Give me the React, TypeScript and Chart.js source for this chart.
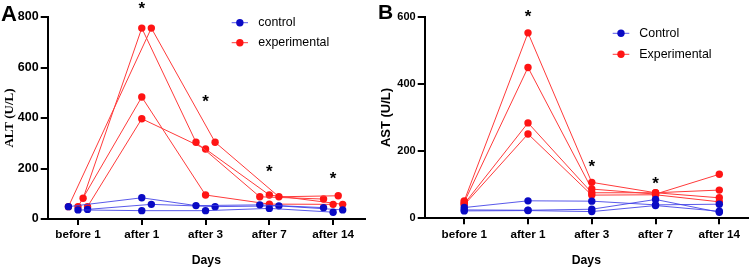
import React, { useEffect, useRef } from "react";
import { Chart, registerables } from "chart.js";

Chart.register(...registerables);

// ---------------- data ----------------
const categories = ["before 1", "after 1", "after 3", "after 7", "after 14"];

// Panel A – ALT (U/L)
const altGroups = ["control", "experimental"];
const altControl = [
  [49, 84, 53, 56, 45],
  [36, 33, 33, 42, 27],
  [38, 58, 49, 52, 36],
];
const altControlJitter = [
  [-0.15, 0, -0.15, -0.15, -0.15],
  [0, 0, 0, 0, 0],
  [0.15, 0.15, 0.15, 0.15, 0.15],
];
const altExperimental = [
  [49, 756, 304, 88, 92],
  [82, 756, 304, 88, 79],
  [49, 483, 95, 59, 58],
  [49, 397, 277, 95, 58],
];
const altExperimentalJitter = [
  [-0.15, 0.15, 0.15, 0.15, 0.08],
  [0.08, 0, -0.15, -0.15, -0.15],
  [0, 0, 0, 0, 0],
  [0.15, 0, 0, 0, 0.15],
];
const altStarIndex = [1, 2, 3, 4];
const altStarValue = [850, 483, 203, 177];
const altTicks = [0, 200, 400, 600, 800];

// Panel B – AST (U/L)
const astGroups = ["Control", "Experimental"];
const astControl = [
  [32, 52, 51, 40, 42],
  [25, 24, 27, 56, 18],
  [22, 23, 20, 38, 21],
];
const astExperimental = [
  [52, 552, 107, 76, 84],
  [48, 449, 87, 72, 131],
  [43, 284, 76, 76, 61],
  [40, 251, 69, 70, 49],
];
const astStarIndex = [1, 2, 3];
const astStarValue = [612, 167, 117];
const astTicks = [0, 200, 400, 600];

// ---------------- styles ----------------
const SANS = '"Liberation Sans", Arial, Helvetica, sans-serif';
const SERIF = '"Liberation Serif", "Times New Roman", serif';
const BLUE_PT = "#0a0ac4";
const BLUE_LINE = "rgba(60,60,230,0.85)";
const RED_PT = "#ff1414";
const RED_LINE = "#ff3a3a";

type Spec = {
  letter: string;
  letterSize: number;
  letterY: number;
  groups: string[];
  control: number[][];
  controlJitter?: number[][];
  experimental: number[][];
  experimentalJitter?: number[][];
  starIndex: number[];
  starValue: number[];
  ticks: number[];
  yTickSize: number;
  yTitle: string;
  yTitleFont: string;
  xMin: number;
  xMax: number;
  top: number;
  bottomH: number;
  right: number;
  legendLineX: [number, number];
  legendTextX: number;
  legendY: number[];
};

function buildChart(canvas: HTMLCanvasElement, s: Spec) {
  const datasets: any[] = [];
  const mk = (vals: number[], jit: number[] | undefined, ptc: string, lc: string, label: string) => ({
    label,
    data: vals.map((v, j) => ({ x: j + (jit ? jit[j] : 0), y: v })),
    showLine: true,
    borderColor: lc,
    borderWidth: 1,
    backgroundColor: ptc,
    pointBackgroundColor: ptc,
    pointBorderColor: ptc,
    pointBorderWidth: 0,
    pointRadius: 3.7,
    clip: false,
  });
  s.control.forEach((v, i) =>
    datasets.push(mk(v, s.controlJitter ? s.controlJitter[i] : undefined, BLUE_PT, BLUE_LINE, s.groups[0]))
  );
  s.experimental.forEach((v, i) =>
    datasets.push(mk(v, s.experimentalJitter ? s.experimentalJitter[i] : undefined, RED_PT, RED_LINE, s.groups[1]))
  );

  const decor = {
    id: "decor" + s.letter,
    afterDraw(chart: any) {
      const { ctx, scales } = chart;
      ctx.save();
      ctx.fillStyle = "#000";
      // panel letter
      ctx.font = `bold ${s.letterSize}px ${SANS}`;
      ctx.textAlign = "left";
      ctx.textBaseline = "alphabetic";
      ctx.fillText(s.letter, 1, s.letterY);
      // significance stars
      const starSize = 17;
      ctx.font = `bold ${starSize}px ${SANS}`;
      ctx.textAlign = "center";
      s.starIndex.forEach((idx, i) => {
        const x = scales.x.getPixelForValue(idx);
        const y = scales.y.getPixelForValue(s.starValue[i]);
        ctx.fillText("*", x, y + 0.57 * starSize);
      });
      // legend
      const cols = [
        [BLUE_LINE, BLUE_PT],
        [RED_LINE, RED_PT],
      ];
      s.groups.forEach((g, i) => {
        const y = s.legendY[i];
        ctx.strokeStyle = cols[i][0];
        ctx.lineWidth = 1;
        ctx.beginPath();
        ctx.moveTo(s.legendLineX[0], y);
        ctx.lineTo(s.legendLineX[1], y);
        ctx.stroke();
        ctx.fillStyle = cols[i][1];
        ctx.beginPath();
        ctx.arc((s.legendLineX[0] + s.legendLineX[1]) / 2, y, 3.7, 0, Math.PI * 2);
        ctx.fill();
        ctx.fillStyle = "#000";
        ctx.font = `12.4px ${SANS}`;
        ctx.textAlign = "left";
        ctx.textBaseline = "middle";
        ctx.fillText(g, s.legendTextX, y);
      });
      ctx.restore();
    },
  };

  const yMax = s.ticks[s.ticks.length - 1];
  return new Chart(canvas, {
    type: "scatter",
    data: { datasets },
    plugins: [decor],
    options: {
      responsive: false,
      animation: false,
      devicePixelRatio: 1,
      layout: { padding: { left: 0, right: s.right, top: s.top, bottom: 0 } },
      plugins: { legend: { display: false }, tooltip: { enabled: false } },
      scales: {
        x: {
          type: "linear",
          min: s.xMin,
          max: s.xMax,
          afterBuildTicks: (sc: any) => {
            sc.ticks = categories.map((_, i) => ({ value: i }));
          },
          afterFit: (sc: any) => {
            sc.height = s.bottomH;
          },
          ticks: {
            autoSkip: false,
            maxRotation: 0,
            padding: 3,
            color: "#000",
            font: { family: SANS, size: 11.7, weight: "bold" },
            callback: (v: any) => categories[Math.round(Number(v))] ?? "",
          },
          grid: {
            display: true,
            drawOnChartArea: false,
            drawTicks: true,
            tickLength: 6,
            color: "#000",
            lineWidth: 2,
          },
          border: { display: true, color: "#000", width: 2 },
          title: {
            display: true,
            text: "Days",
            color: "#000",
            font: { family: SANS, size: 12.2, weight: "bold" },
            padding: { top: 0, bottom: 0 },
          },
        },
        y: {
          type: "linear",
          min: 0,
          max: yMax,
          afterBuildTicks: (sc: any) => {
            sc.ticks = s.ticks.map((v) => ({ value: v }));
          },
          afterFit: (sc: any) => {
            sc.width = 47.7;
          },
          ticks: {
            padding: 2,
            color: "#000",
            font: { family: SANS, size: s.yTickSize, weight: "bold" },
          },
          grid: {
            display: true,
            drawOnChartArea: false,
            drawTicks: true,
            tickLength: 7,
            color: "#000",
            lineWidth: 2,
          },
          border: { display: true, color: "#000", width: 2 },
          title: {
            display: true,
            text: s.yTitle,
            color: "#000",
            font: { family: s.yTitleFont, size: 13, weight: "bold" },
            padding: { top: 2, bottom: 0 },
          },
        },
      },
    } as any,
  });
}

const specA: Spec = {
  letter: "A",
  letterSize: 22,
  letterY: 21,
  groups: altGroups,
  control: altControl,
  controlJitter: altControlJitter,
  experimental: altExperimental,
  experimentalJitter: altExperimentalJitter,
  starIndex: altStarIndex,
  starValue: altStarValue,
  ticks: altTicks,
  yTickSize: 12.5,
  yTitle: "ALT (U/L)",
  yTitleFont: SERIF,
  xMin: -0.475,
  xMax: 4.5,
  top: 17,
  bottomH: 49,
  right: 12,
  legendLineX: [231.7, 248],
  legendTextX: 258.3,
  legendY: [22.7, 42.7],
};

const specB: Spec = {
  letter: "B",
  letterSize: 21,
  letterY: 19,
  groups: astGroups,
  control: astControl,
  experimental: astExperimental,
  starIndex: astStarIndex,
  starValue: astStarValue,
  ticks: astTicks,
  yTickSize: 11,
  yTitle: "AST (U/L)",
  yTitleFont: SANS,
  xMin: -0.62,
  xMax: 4.45,
  top: 16.7,
  bottomH: 49.7,
  right: 6,
  legendLineX: [235.7, 252.3],
  legendTextX: 262.3,
  legendY: [33.3, 54.3],
};

function Panel({ spec, left }: { spec: Spec; left: number }) {
  const ref = useRef<HTMLCanvasElement | null>(null);
  useEffect(() => {
    if (!ref.current) return;
    const chart = buildChart(ref.current, spec);
    return () => chart.destroy();
  }, [spec]);
  return (
    <canvas
      ref={ref}
      width={377}
      height={268}
      style={{ position: "absolute", left, top: 0, width: 377, height: 268 }}
    />
  );
}

export default function App() {
  return (
    <div
      style={{
        position: "absolute",
        left: 0,
        top: 0,
        width: 754,
        height: 268,
        background: "#fff",
        overflow: "hidden",
      }}
    >
      <Panel spec={specA} left={0} />
      <Panel spec={specB} left={377} />
    </div>
  );
}
